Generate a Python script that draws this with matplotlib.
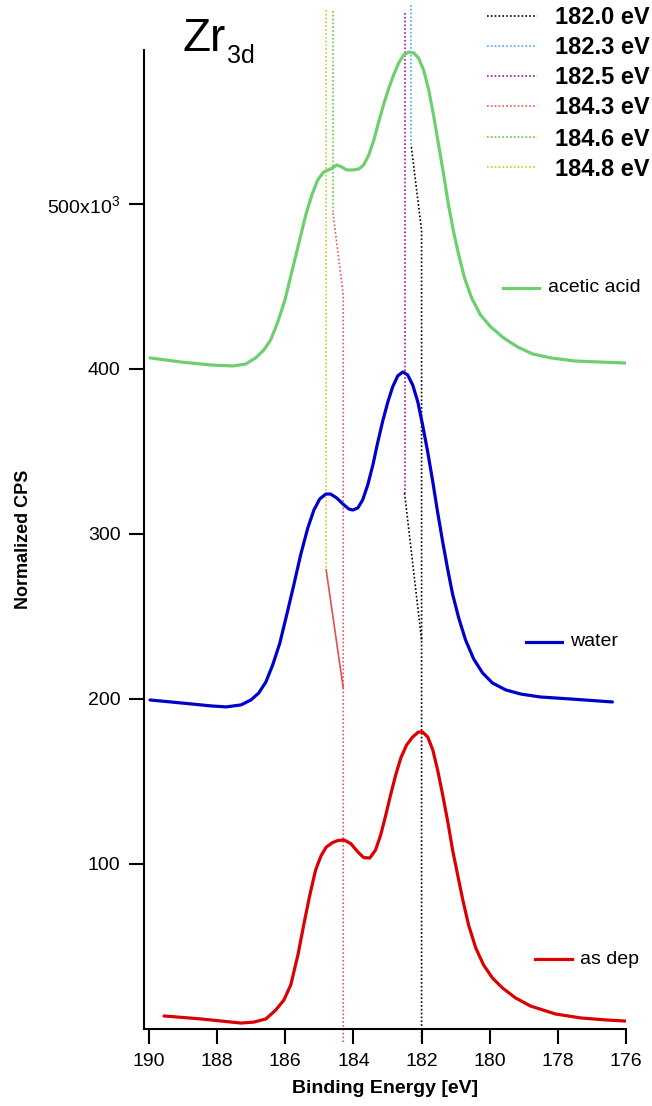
import matplotlib
matplotlib.use("Agg")
import matplotlib.pyplot as plt
from matplotlib.lines import Line2D

plt.rcParams['font.family'] = ['Liberation Sans', 'DejaVu Sans']
plt.rcParams['mathtext.fontset'] = 'custom'
plt.rcParams['mathtext.rm'] = 'Liberation Sans'
plt.rcParams['mathtext.it'] = 'Liberation Sans:italic'
plt.rcParams['mathtext.bf'] = 'Liberation Sans:bold'

# ---------------- spectra (binding energy in eV, intensity in 10^3 CPS) ----------------
as_dep_E = [189.56, 188.48, 187.30, 186.92, 186.57, 186.28, 186.04, 185.84, 185.63, 185.46,
            185.28, 185.11, 184.95, 184.80, 184.62, 184.46, 184.28, 184.08, 183.87, 183.70, 183.52,
            183.35, 183.20, 183.05, 182.91, 182.76, 182.61, 182.44, 182.26, 182.09, 181.97,
            181.82, 181.67, 181.53, 181.38, 181.23, 181.09, 180.94, 180.79, 180.62, 180.41,
            180.18, 179.92, 179.62, 179.24, 178.80, 178.07, 177.33, 176.60, 176.01]
as_dep_I = [7.9, 6.1, 3.6, 4.2, 6.1, 11.5, 17.6, 26.7, 44.8, 63.0,
            81.2, 96.4, 105.0, 110.2, 112.9, 114.2, 114.6, 112.4, 107.3, 103.9, 103.6,
            108.5, 117.6, 129.7, 141.8, 153.9, 164.2, 172.1, 177.0, 180.0, 180.0,
            177.0, 169.1, 157.0, 141.8, 125.5, 108.5, 93.3, 78.2, 63.0, 49.1,
            38.8, 30.9, 24.8, 18.8, 13.9, 9.1, 6.7, 5.5, 4.8]

water_E = [189.97, 189.06, 188.18, 187.74, 187.30, 187.01, 186.78, 186.57, 186.37, 186.16,
           185.96, 185.75, 185.55, 185.34, 185.16, 184.99, 184.81, 184.67, 184.49, 184.31,
           184.14, 184.02, 183.87, 183.73, 183.58, 183.43, 183.29, 183.14, 182.99, 182.85,
           182.70, 182.55, 182.41, 182.26, 182.11, 181.97, 181.82, 181.67, 181.53, 181.38,
           181.23, 181.09, 180.91, 180.71, 180.47, 180.21, 179.92, 179.53, 179.09, 178.51,
           177.63, 176.40]
water_I = [199.4, 197.6, 195.8, 195.2, 196.4, 199.4, 203.6, 210.3, 220.6, 233.9,
           250.9, 269.1, 287.3, 303.6, 314.5, 321.2, 324.2, 324.2, 321.8, 318.2,
           315.2, 314.5, 315.8, 320.6, 329.7, 341.8, 355.2, 368.5, 380.0, 389.1,
           395.8, 398.2, 396.4, 390.3, 380.0, 366.1, 349.7, 331.5, 313.3, 295.2,
           278.2, 263.6, 249.1, 235.8, 224.2, 215.8, 209.7, 205.5, 203.0, 201.2,
           200.0, 198.2]

acetic_E = [189.97, 189.06, 188.18, 187.54, 187.16, 186.87, 186.63, 186.43, 186.22, 186.01,
            185.81, 185.60, 185.40, 185.22, 185.05, 184.87, 184.67, 184.49, 184.34, 184.20,
            184.02, 183.84, 183.70, 183.55, 183.40, 183.26, 183.11, 182.96, 182.82, 182.67,
            182.52, 182.38, 182.23, 182.09, 181.94, 181.79, 181.65, 181.50, 181.35, 181.21,
            181.06, 180.91, 180.74, 180.53, 180.27, 179.97, 179.59, 179.18, 178.74, 178.21,
            177.48, 176.75, 176.01]
acetic_I = [406.7, 404.2, 402.4, 401.8, 403.0, 406.7, 411.5, 417.6, 428.5, 441.8,
            458.8, 476.4, 493.3, 505.5, 514.5, 519.4, 521.2, 523.6, 522.4, 520.6,
            520.6, 521.2, 523.6, 529.7, 538.8, 549.7, 560.6, 570.3, 578.2, 585.5,
            590.3, 592.1, 591.5, 588.5, 581.2, 569.1, 553.9, 535.8, 517.6, 499.4,
            483.0, 469.1, 455.2, 443.0, 432.7, 425.5, 418.8, 413.3, 409.1, 406.7,
            404.8, 404.2, 403.6]

series_names = ['acetic acid', 'water', 'as dep']
series_colors = ['#6fcf6f', '#0000cc', '#dd0000']

# ---------------- peak-position guides (eV) ----------------
guide_energies = [182.0, 182.3, 182.5, 184.3, 184.6, 184.8]
guide_colors = ['#000000', '#4fa3ff', '#a0109f', '#f05555', '#66cc33', '#cccc22']
guide_labels = ['%.1f eV' % e for e in guide_energies]

# guide paths: energies and intensities of each polyline
guide_paths = {
    182.0: [([182.3, 182.0, 182.0], [534.5, 484.0, -8.5]),
            ([182.5, 182.0], [324.8, 235.8])],
    182.3: [([182.3, 182.3], [620.6, 534.5])],
    182.5: [([182.5, 182.5], [615.8, 324.8])],
    184.3: [([184.6, 184.3, 184.3], [494.5, 445.0, -8.5])],
    184.6: [([184.6, 184.6], [617.0, 494.5])],
    184.8: [([184.8, 184.8], [617.6, 278.2])],
}
shift_line_E = [184.8, 184.3]
shift_line_I = [278.2, 206.7]

x_ticks = [190, 188, 186, 184, 182, 180, 178, 176]
y_ticks = [100, 200, 300, 400, 500]
y_tick_labels = ['100', '200', '300', '400', r'500x10$^{3}$']

# ---------------- figure ----------------
W, H = 652, 1106
fig = plt.figure(figsize=(W / 100, H / 100), dpi=100)
ax = fig.add_axes([144 / W, 1 - 1029 / H, 482 / W, 979 / H])


def fx(px):
    return px / W


def fy(py):
    return 1 - py / H


dot = (0, (1, 1.3))
for e, c in zip(guide_energies, guide_colors):
    for xs, ys in guide_paths[e]:
        ax.plot(xs, ys, color=c, lw=1.2, linestyle=dot, clip_on=False, zorder=2)
ax.plot(shift_line_E, shift_line_I, color='#e05050', lw=1.2, zorder=2)

for E, I, c in zip([acetic_E, water_E, as_dep_E], [acetic_I, water_I, as_dep_I], series_colors):
    ax.plot(E, I, color=c, lw=2.3, solid_joinstyle='round', solid_capstyle='round', zorder=3)

ax.set_xlim(190.147, 176.0)
ax.set_ylim(0, 593.3)
ax.set_xticks(x_ticks)
ax.set_xticklabels([str(t) for t in x_ticks])
ax.set_yticks(y_ticks)
ax.set_yticklabels(y_tick_labels)
ax.tick_params(axis='x', direction='out', length=10.5, width=1.5, pad=7, labelsize=14)
ax.tick_params(axis='y', direction='out', length=11, width=1.5, pad=6, labelsize=14)
for s in ['top', 'right']:
    ax.spines[s].set_visible(False)
for s in ['left', 'bottom']:
    ax.spines[s].set_linewidth(1.5)

ax.set_xlabel('Binding Energy [eV]', fontsize=14, fontweight='bold')
ax.xaxis.set_label_coords(0.5, -0.052)
ax.set_ylabel('Normalized CPS', fontsize=13, fontweight='bold')
ax.yaxis.set_label_coords(-0.232, 0.5)

# title
fig.text(fx(183), fy(51), 'Zr', fontsize=33, va='baseline', ha='left')
fig.text(fx(227), fy(63), '3d', fontsize=18, va='baseline', ha='left')

# peak-position key
row_y = [16, 46, 76, 106, 137, 167]
for yy, c, lab in zip(row_y, guide_colors, guide_labels):
    fig.add_artist(Line2D([fx(487), fx(537)], [fy(yy), fy(yy)], transform=fig.transFigure,
                          color=c, lw=1.2, linestyle=dot))
    fig.text(fx(555), fy(yy + 8.5), lab, fontsize=17, fontweight='bold', va='baseline', ha='left')

# series key
key_pos = [(503, 539, 548, 288), (526, 562, 570, 642), (535, 572, 580, 959)]
for (x0, x1, xt, yy), name, c in zip(key_pos, series_names, series_colors):
    fig.add_artist(Line2D([fx(x0), fx(x1)], [fy(yy), fy(yy)], transform=fig.transFigure,
                          color=c, lw=2.3))
    fig.text(fx(xt), fy(yy), name, fontsize=14, va='center', ha='left')

fig.savefig('out.png', dpi=100)
